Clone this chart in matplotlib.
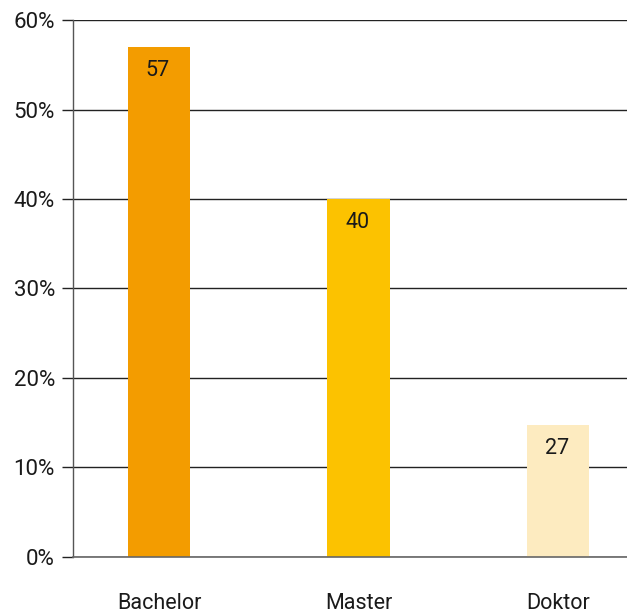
import matplotlib
matplotlib.use("Agg")
import matplotlib.pyplot as plt

# Degree levels and their shares (percent)
categories = ["Bachelor", "Master", "Doktor"]
shares = [57, 40, 14.7]
value_labels = ["57", "40", "27"]
bar_colors = ["#F39C00", "#FCC200", "#FDEBC0"]
y_ticks = [0, 10, 20, 30, 40, 50, 60]
y_tick_labels = [f"{t}%" for t in y_ticks]

plt.rcParams["font.family"] = ["Roboto", "DejaVu Sans"]

fig = plt.figure(figsize=(6.27, 6.13), dpi=100)
ax = fig.add_axes([73 / 627, 56.3 / 613, (627 - 73) / 627, (556.7 - 20.3) / 613])

x = list(range(len(categories)))
bars = ax.bar(x, shares, width=0.315, color=bar_colors, zorder=3)

for xi, val, lab in zip(x, shares, value_labels):
    ax.annotate(lab, (xi, val), xytext=(-1, -9), textcoords="offset points",
                ha="center", va="top", fontsize=15.5, color="#1a1a1a", zorder=4)

ax.set_xlim(-0.431, 2.346)
ax.set_ylim(0, 60)
ax.set_yticks(y_ticks)
ax.set_yticklabels(y_tick_labels, fontsize=16, color="#1a1a1a")
ax.set_xticks(x)
ax.set_xticklabels(categories, fontsize=15.5, color="#1a1a1a")

ax.yaxis.grid(True, color="#222222", linewidth=1.0, zorder=0)
ax.set_axisbelow(True)
ax.tick_params(axis="y", length=8, width=1.0, color="#222222", pad=5)
ax.tick_params(axis="x", length=0, pad=26)

for side in ("top", "right"):
    ax.spines[side].set_visible(False)
ax.spines["left"].set_color("#555555")
ax.spines["left"].set_linewidth(1.0)
ax.spines["bottom"].set_color("#666666")
ax.spines["bottom"].set_linewidth(1.2)
ax.spines["bottom"].set_zorder(5)

fig.savefig("out.png", dpi=100)
